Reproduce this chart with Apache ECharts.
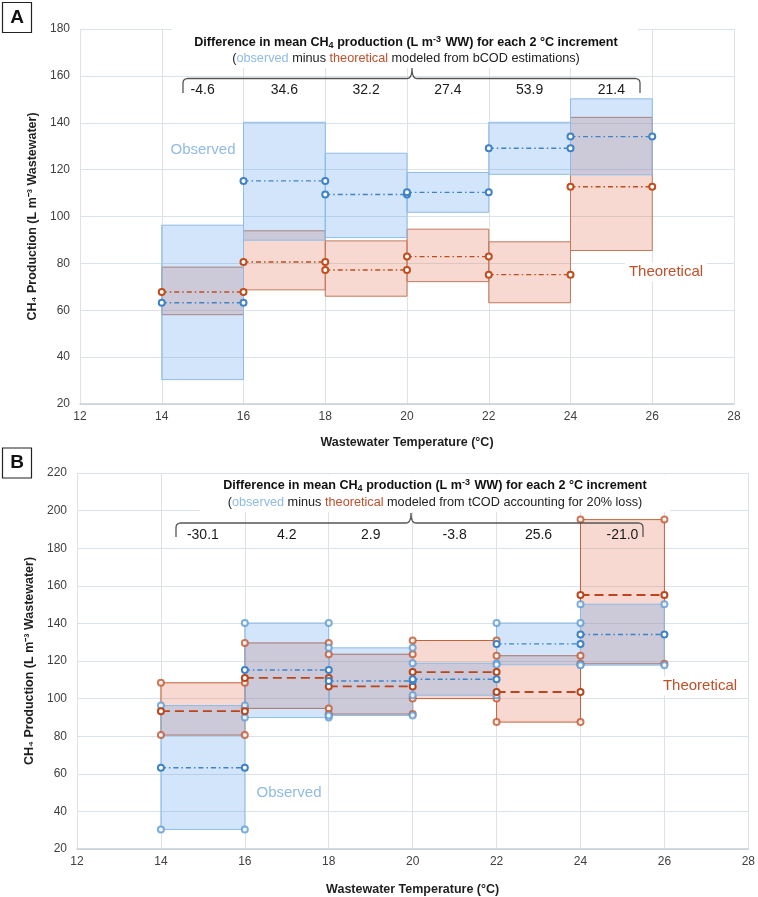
<!DOCTYPE html>
<html>
<head>
<meta charset="utf-8">
<script src="https://cdn.jsdelivr.net/npm/echarts@6/dist/echarts.min.js"></script>
<style>
html,body{margin:0;padding:0;background:#fff;}
#c{width:758px;height:897px;}
</style>
</head>
<body>
<div id="c"></div>
<script>
// ---- data ----
const binStart = [14, 16, 18, 20, 22, 24];
const binEnd   = [16, 18, 20, 22, 24, 26];
const obsMax   = [96.3, 140.2, 127.0, 118.8, 140.2, 150.2];
const obsMin   = [30.4, 89.9, 91.0, 101.8, 118.0, 117.8];
const obsMean  = [63.2, 115.2, 109.4, 110.3, 129.1, 134.1];
const theoMaxA  = [78.4, 93.9, 89.6, 94.6, 89.2, 142.3];
const theoMinA  = [58.1, 68.7, 66.0, 72.2, 63.2, 85.5];
const theoMeanA = [67.8, 80.6, 77.2, 82.9, 75.2, 112.7];
const diffA = ['-4.6', '34.6', '32.2', '27.4', '53.9', '21.4'];
const theoMaxB  = [108.4, 129.6, 123.6, 130.9, 122.8, 195.2];
const theoMinB  = [80.6, 94.8, 91.8, 100.0, 87.5, 118.5];
const theoMeanB = [93.3, 111.0, 106.5, 114.1, 103.5, 155.1];
const diffB = ['-30.1', '4.2', '2.9', '-3.8', '25.6', '-21.0'];
const yRangeA = [20, 180];
const yRangeB = [20, 220];
const diffRowA = 154;
const diffRowB = 187;

// ---- styles ----
const FONT = '"Liberation Sans", Arial, sans-serif';
const obsFill = 'rgba(90,160,235,0.27)';
const obsStroke = '#8fbbe6';
const theoFill = 'rgba(225,120,90,0.28)';
const theoStrokeA = '#c27a5c';
const theoStrokeB = '#c4623a';
const obsLine = '#3f83c6';
const theoLine = '#bf4e1f';
const gridColor = '#dbe3e8';

function boxSeries(gi, mins, maxs, fill, stroke, z) {
  return {
    type: 'custom', xAxisIndex: gi, yAxisIndex: gi, z: z, silent: true,
    data: binStart.map((s, i) => [s, binEnd[i], mins[i], maxs[i]]),
    encode: {x: [0, 1], y: [2, 3]},
    renderItem: function (params, api) {
      const p0 = api.coord([api.value(0), api.value(3)]);
      const p1 = api.coord([api.value(1), api.value(2)]);
      return {type: 'rect',
        shape: {x: p0[0], y: p0[1], width: p1[0] - p0[0], height: p1[1] - p0[1]},
        style: {fill: fill, stroke: stroke, lineWidth: 1}};
    }
  };
}
function meanSeries(gi, means, color, dash, width) {
  return binStart.map((s, i) => ({
    type: 'line', xAxisIndex: gi, yAxisIndex: gi, z: 5, silent: true,
    data: [[s, means[i]], [binEnd[i], means[i]]],
    symbol: 'emptyCircle', symbolSize: 6,
    itemStyle: {color: color, borderWidth: 1.2},
    lineStyle: {color: color, width: width, type: dash},
    animation: false
  }));
}
function cornerSeries(gi, mins, maxs, color) {
  const pts = [];
  binStart.forEach((s, i) => {
    pts.push([s, mins[i]], [s, maxs[i]], [binEnd[i], mins[i]], [binEnd[i], maxs[i]]);
  });
  return {type: 'scatter', xAxisIndex: gi, yAxisIndex: gi, z: 4, silent: true,
    data: pts, symbol: 'emptyCircle', symbolSize: 6,
    itemStyle: {color: color, borderColor: color, borderWidth: 1.1}};
}
function diffSeries(gi, diffs, row) {
  return {type: 'custom', xAxisIndex: gi, yAxisIndex: gi, z: 6, silent: true,
    data: binStart.map((s, i) => [(s + binEnd[i]) / 2, row, i]),
    renderItem: function (params, api) {
      const p = api.coord([api.value(0), api.value(1)]);
      return {type: 'text', x: p[0], y: p[1],
        style: {text: diffs[params.dataIndex], fill: '#1a1a1a', font: '14px ' + FONT,
          align: 'center', verticalAlign: 'middle'}};
    }};
}
function xAx(gi, gap) {
  return {type: 'value', gridIndex: gi, min: 12, max: 28, interval: 2,
    axisLine: {show: true, lineStyle: {color: '#c8d1d8', width: 1.5}},
    axisTick: {show: false},
    splitLine: {show: true, lineStyle: {color: gridColor, width: 1}},
    axisLabel: {color: '#404040', fontSize: 12, fontFamily: FONT, margin: 7},
    name: 'Wastewater Temperature (°C)', nameLocation: 'middle', nameGap: gap,
    nameTextStyle: {color: '#1f1f1f', fontSize: 12.5, fontWeight: 'bold', fontFamily: FONT}};
}
function yAx(gi, range, gap) {
  return {type: 'value', gridIndex: gi, min: range[0], max: range[1], interval: 20,
    axisLine: {show: false}, axisTick: {show: false},
    splitLine: {show: true, lineStyle: {color: gridColor, width: 1}},
    axisLabel: {color: '#404040', fontSize: 12, fontFamily: FONT, margin: 10},
    name: 'CH₄ Production (L m⁻³ Wastewater)', nameLocation: 'middle', nameGap: gap, nameRotate: 90,
    nameTextStyle: {color: '#1f1f1f', fontSize: 12.5, fontWeight: 'bold', fontFamily: FONT}};
}

const series = [].concat(
  [boxSeries(0, theoMinA, theoMaxA, theoFill, theoStrokeA, 2),
   boxSeries(0, obsMin, obsMax, obsFill, obsStroke, 3)],
  meanSeries(0, theoMeanA, theoLine, [5, 3, 1.5, 3], 1.4),
  meanSeries(0, obsMean, obsLine, [5, 3, 1.5, 3], 1.4),
  [diffSeries(0, diffA, diffRowA)],
  [boxSeries(1, theoMinB, theoMaxB, theoFill, theoStrokeB, 2),
   boxSeries(1, obsMin, obsMax, obsFill, obsStroke, 3),
   cornerSeries(1, theoMinB, theoMaxB, '#c0582e'),
   cornerSeries(1, obsMin, obsMax, '#5d9bd6')],
  meanSeries(1, theoMeanB, '#b9461c', [9, 5], 1.8),
  meanSeries(1, obsMean, obsLine, [5, 3, 1.5, 3], 1.4),
  [diffSeries(1, diffB, diffRowB)]
);

function titleText(cx, y1, y2, method) {
  return [
    {type: 'text', z: 60, x: cx, y: y1,
     style: {text: '{b|Difference in mean CH}{bs|4}{b| production (L m}{bu|-3}{b| WW) for each 2 °C increment}',
       align: 'center', verticalAlign: 'middle',
       rich: {
         b: {font: 'bold 12.6px ' + FONT, fill: '#111'},
         bs: {font: 'bold 9px ' + FONT, fill: '#111', padding: [6, 0, 0, 0]},
         bu: {font: 'bold 9px ' + FONT, fill: '#111', padding: [0, 1, 6, 0]}
       }}},
    {type: 'text', z: 60, x: cx, y: y2,
     style: {text: '{n|(}{o|observed}{n| minus }{t|theoretical}{n| ' + method + ')}',
       align: 'center', verticalAlign: 'middle',
       rich: {
         n: {font: '12.7px ' + FONT, fill: '#222'},
         o: {font: '12.7px ' + FONT, fill: '#8fbbe6'},
         t: {font: '12.7px ' + FONT, fill: '#c0502a'}
       }}}
  ];
}
function quad(pts, p0, c, p1) {
  for (let k = 1; k <= 8; k++) {
    const t = k / 8, u = 1 - t;
    pts.push([u * u * p0[0] + 2 * u * t * c[0] + t * t * p1[0], u * u * p0[1] + 2 * u * t * c[1] + t * t * p1[1]]);
  }
}
function brace(x0, x1, xm, y, yEnd, yTop) {
  const pts = [[x0, yEnd], [x0, y + 5]];
  quad(pts, [x0, y + 5], [x0, y], [x0 + 5, y]);
  pts.push([xm - 5, y]);
  quad(pts, [xm - 5, y], [xm, y], [xm, yTop]);
  quad(pts, [xm, yTop], [xm, y], [xm + 5, y]);
  pts.push([x1 - 5, y]);
  quad(pts, [x1 - 5, y], [x1, y], [x1, y + 5]);
  pts.push([x1, yEnd]);
  return {type: 'polyline', z: 60, shape: {points: pts},
    style: {fill: null, stroke: '#555', lineWidth: 1.3}};
}
function panelLabel(y, letter) {
  return [
    {type: 'rect', z: 60, shape: {x: 2.5, y: y, width: 29, height: 30},
     style: {fill: '#fff', stroke: '#222', lineWidth: 1.2}},
    {type: 'text', z: 61, x: 17, y: y + 15,
     style: {text: letter, font: 'bold 19px ' + FONT, fill: '#111', align: 'center', verticalAlign: 'middle'}}
  ];
}
function label(x, y, text, color) {
  return {type: 'text', z: 60, x: x, y: y,
    style: {text: text, font: '15px ' + FONT, fill: color, align: 'center', verticalAlign: 'middle',
      backgroundColor: '#fff', padding: [2, 4]}};
}

const graphic = [].concat(
  [{type: 'rect', z: 50, shape: {x: 172, y: 27, width: 466, height: 41}, style: {fill: '#fff'}},
   {type: 'rect', z: 50, shape: {x: 200, y: 474.5, width: 470, height: 37.5}, style: {fill: '#fff'}}],
  titleText(406, 43, 58, 'modeled from bCOD estimations'),
  titleText(435, 486, 502, 'modeled from tCOD accounting for 20% loss'),
  [brace(183, 640, 412, 78.5, 93, 68), brace(176, 643, 411, 523, 537, 513)],
  panelLabel(2.5, 'A'), panelLabel(448, 'B'),
  [label(203, 150, 'Observed', '#8fbbe6'), label(666, 272, 'Theoretical', '#c0502a'),
   label(289, 793, 'Observed', '#8fbbe6'), label(700, 686, 'Theoretical', '#c0502a')]
);

const chart = echarts.init(document.getElementById('c'), null, {renderer: 'canvas'});
chart.setOption({
  animation: false,
  backgroundColor: '#fff',
  grid: [
    {left: 80, top: 29, width: 654, height: 375},
    {left: 77, top: 473, width: 672, height: 376}
  ],
  xAxis: [xAx(0, 32), xAx(1, 34)],
  yAxis: [yAx(0, yRangeA, 40), yAx(1, yRangeB, 39)],
  series: series,
  graphic: graphic
});
</script>
</body>
</html>
